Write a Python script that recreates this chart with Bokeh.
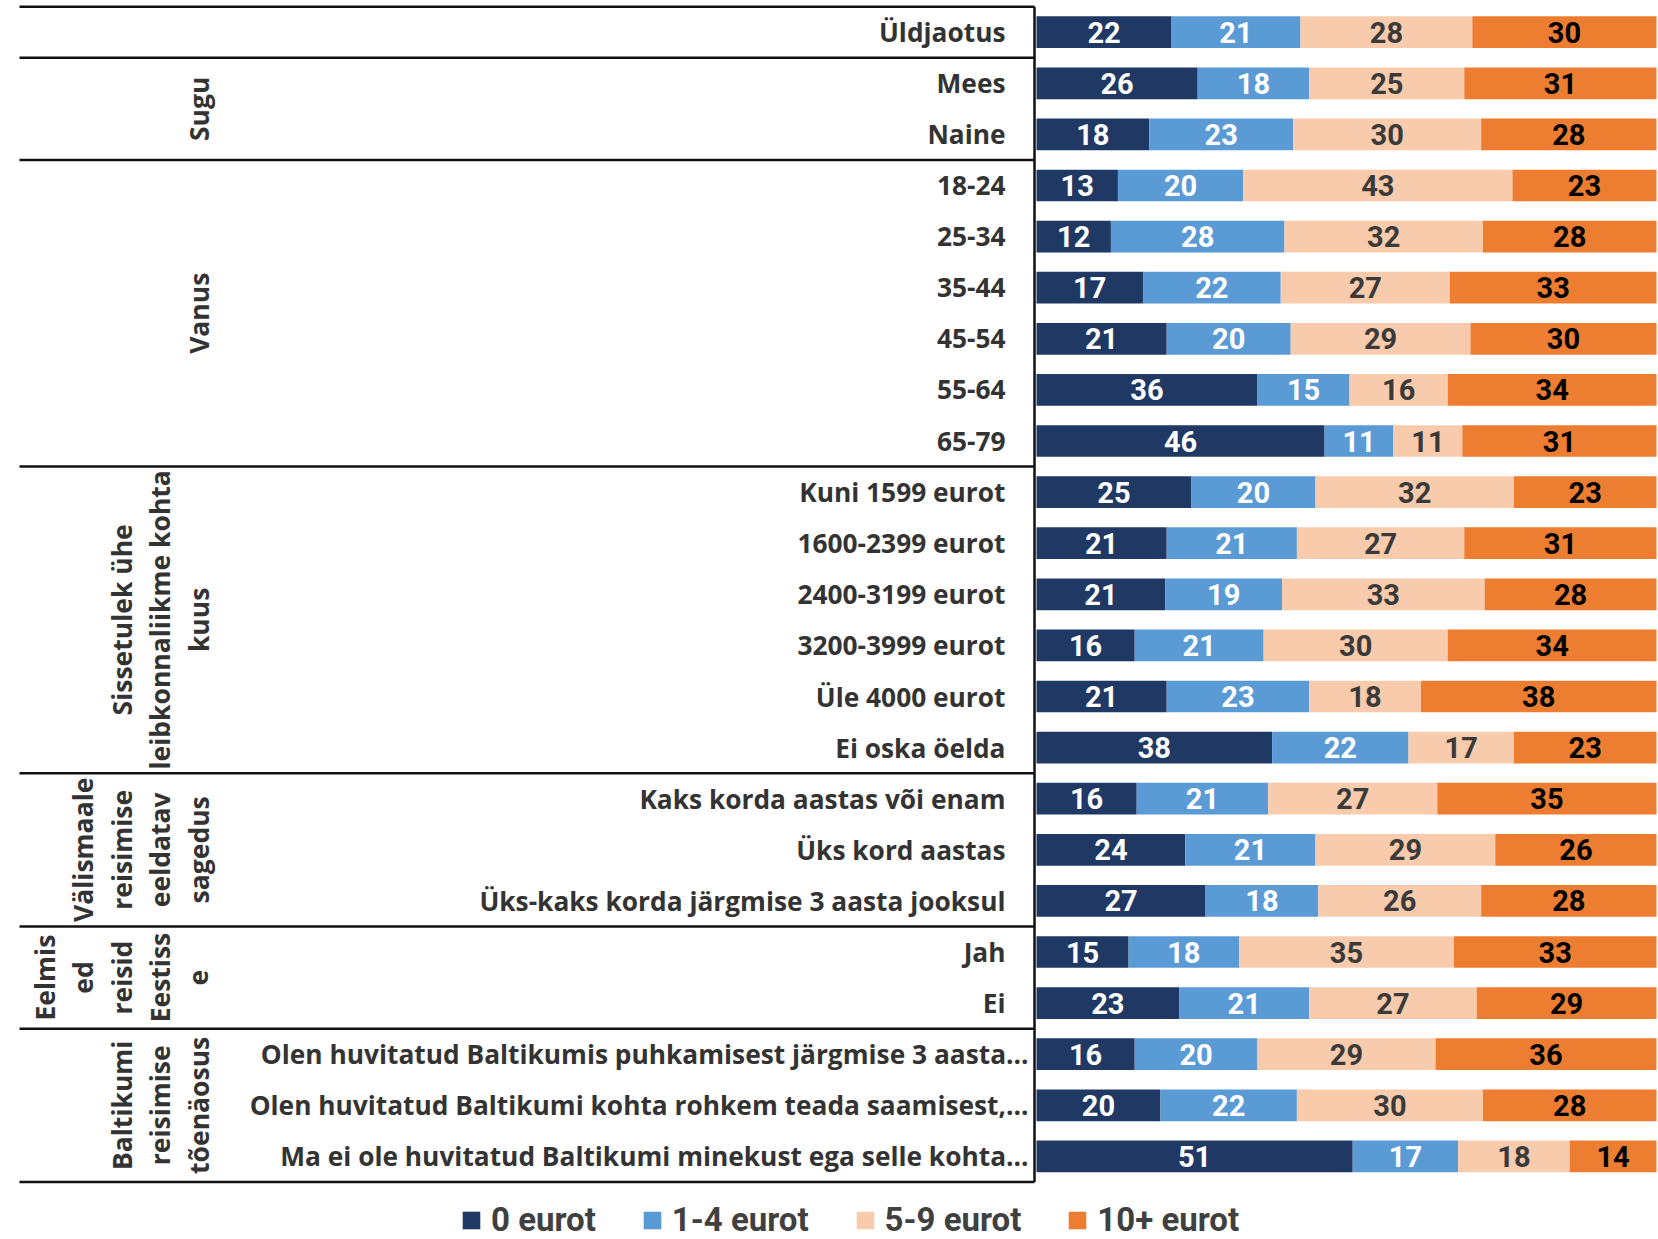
import numpy as np
from bokeh.plotting import figure
from bokeh.models import Range1d, ColumnDataSource, Legend, LegendItem
from bokeh.core.properties import value
from bokeh.embed import file_html
from bokeh.resources import INLINE

# ---------------- data ----------------
categories = [
    "Üldjaotus",
    "Mees", "Naine",
    "18-24", "25-34", "35-44", "45-54", "55-64", "65-79",
    "Kuni 1599 eurot", "1600-2399 eurot", "2400-3199 eurot", "3200-3999 eurot",
    "Üle 4000 eurot", "Ei oska öelda",
    "Kaks korda aastas või enam", "Üks kord aastas",
    "Üks-kaks korda järgmise 3 aasta jooksul",
    "Jah", "Ei",
    "Olen huvitatud Baltikumis puhkamisest järgmise 3 aasta…",
    "Olen huvitatud Baltikumi kohta rohkem teada saamisest,…",
    "Ma ei ole huvitatud Baltikumi minekust ega selle kohta…",
]
eur_0    = [22, 26, 18, 13, 12, 17, 21, 36, 46, 25, 21, 21, 16, 21, 38, 16, 24, 27, 15, 23, 16, 20, 51]
eur_1_4  = [21, 18, 23, 20, 28, 22, 20, 15, 11, 20, 21, 19, 21, 23, 22, 21, 21, 18, 18, 21, 20, 22, 17]
eur_5_9  = [28, 25, 30, 43, 32, 27, 29, 16, 11, 32, 27, 33, 30, 18, 17, 27, 29, 26, 35, 27, 29, 30, 18]
eur_10   = [30, 31, 28, 23, 28, 33, 30, 34, 31, 23, 31, 28, 34, 38, 23, 35, 26, 28, 33, 29, 36, 28, 14]
series_names = ["0 eurot", "1-4 eurot", "5-9 eurot", "10+ eurot"]

group_titles = [
    ["Sugu"],
    ["Vanus"],
    ["Sissetulek ühe", "leibkonnaliikme kohta", "kuus"],
    ["Välismaale", "reisimise", "eeldatav", "sagedus"],
    ["Eelmis", "ed", "reisid", "Eestiss", "e"],
    ["Baltikumi", "reisimise", "tõenäosus"],
]
group_first = [1, 3, 9, 15, 18, 20]
group_last = [2, 8, 14, 17, 19, 22]

# ---------------- style ----------------
colors = ["#203864", "#5B9BD5", "#F8CBAD", "#ED7D31"]
label_colors = ["#FFFFFF", "#FFFFFF", "#3A3A3A", "#000000"]
TEXT_COL = "#333333"

W, H = 1658, 1239
X_ZERO, X_FULL = 1036, 1656          # px of 0 % and 100 %
PPP = (X_FULL - X_ZERO) / 100.0
ROW0, ROW_STEP = 31.7, 51.1          # px of first row centre, row pitch


def xd(sx):
    return (sx - X_ZERO) / PPP


def yd(sy):
    return (sy - ROW0) / ROW_STEP


p = figure(width=W, height=H, output_backend="svg", toolbar_location=None,
           x_range=Range1d(xd(0), xd(W)), y_range=Range1d(yd(H), yd(0)),
           x_axis_location=None, y_axis_location=None, min_border=0,
           outline_line_color=None)
p.grid.visible = False

n = len(categories)
rows = np.arange(n)
vals = np.array([eur_0, eur_1_4, eur_5_9, eur_10], dtype=float)
pct = vals / vals.sum(axis=0) * 100.0
right = np.cumsum(pct, axis=0)
left = np.vstack([np.zeros(n), right[:-1]])

renderers = []
for k in range(4):
    src = ColumnDataSource(dict(
        y=rows, left=left[k], right=right[k], mid=(left[k] + right[k]) / 2,
        lab=[str(int(v)) for v in vals[k]]))
    r = p.hbar(y="y", left="left", right="right", height=0.62, source=src,
               fill_color=colors[k], line_color=None)
    renderers.append(r)
    p.text(x="mid", y="y", text="lab", source=src, text_align="center",
           text_baseline="middle", text_color=label_colors[k],
           text_font=value("Roboto"), text_font_style="bold",
           text_font_size="29px")

# category labels
lab_right = [1028 if c.endswith("…") else 1005 for c in categories]
csrc = ColumnDataSource(dict(x=[xd(v) for v in lab_right], y=rows, t=categories))
p.text(x="x", y="y", text="t", source=csrc, text_align="right",
       text_baseline="middle", text_color=TEXT_COL,
       text_font=value("Open Sans"), text_font_style="bold",
       text_font_size="26.3px")

# table lines
bounds = [-0.5] + [g + 0.5 for g in [0] + group_last]
p.segment(x0=[xd(19)] * len(bounds), x1=[xd(1034)] * len(bounds),
          y0=bounds, y1=bounds, line_color="#111111", line_width=2.5)
p.segment(x0=[xd(1034)], x1=[xd(1034)], y0=[-0.5], y1=[22.5],
          line_color="#111111", line_width=2.5)

# group labels (rotated)
gx, gy, gt = [], [], []
for lines, a, b in zip(group_titles, group_first, group_last):
    m = len(lines)
    for j, line in enumerate(lines):
        gx.append(xd(198 - (m - 1 - j) * 38.5))
        gy.append((a + b) / 2)
        gt.append(line)
p.text(x=gx, y=gy, text=gt, angle=np.pi / 2, text_align="center",
       text_baseline="middle", text_color=TEXT_COL,
       text_font=value("Open Sans"), text_font_style="bold",
       text_font_size="26.5px")

legend = Legend(
    items=[LegendItem(label=series_names[k], renderers=[renderers[k]]) for k in range(4)],
    orientation="horizontal", location=(460, 0),
    glyph_width=22, glyph_height=22, label_standoff=9, spacing=45,
    padding=0, margin=0, border_line_color=None, background_fill_alpha=0,
    label_text_font="Roboto", label_text_font_size="33px",
    label_text_font_style="bold", label_text_color="#404040")
p.add_layout(legend)

open("out.html", "w").write(file_html(p, INLINE))
